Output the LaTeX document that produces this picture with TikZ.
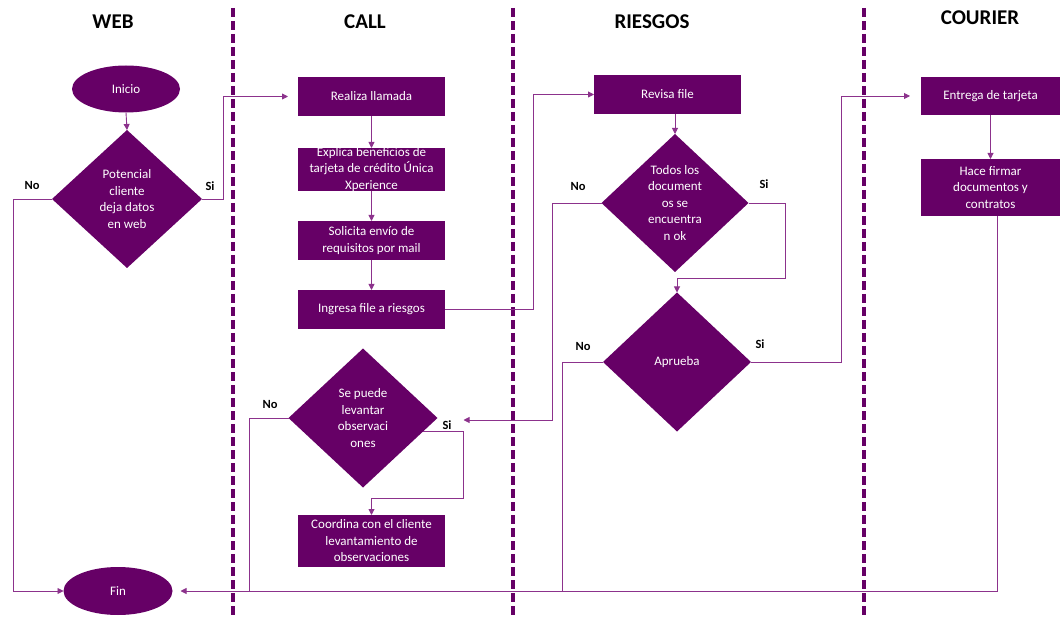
\documentclass[tikz,border=0pt]{standalone}
\usepackage{fontspec}
\setmainfont{Carlito}
\usetikzlibrary{shapes.geometric,arrows.meta,calc}
\definecolor{plum}{RGB}{102,0,102}
\definecolor{wire}{RGB}{140,50,140}

\begin{document}
\begin{tikzpicture}[x=1pt,y=-1pt,
  every node/.style={font=\fontsize{13}{16.5}\selectfont, outer sep=0pt},
  proc/.style={fill=plum, text=white, inner xsep=3pt, inner ysep=0pt, minimum width=147, align=center},
  choice/.style={diamond, fill=plum, text=white, inner sep=-6pt, align=center},
  term/.style={ellipse, fill=plum, text=white, minimum width=108, minimum height=47},
  wire/.style={draw=wire, line width=0.9pt},
  arr/.style={wire, -{Triangle[length=6pt,width=6pt]}},
  lane/.style={draw=plum, line width=3.5pt, dash pattern=on 9pt off 4pt},
  head/.style={font=\fontsize{21}{24}\selectfont\bfseries},
  tag/.style={font=\fontsize{12.5}{14}\selectfont\bfseries}]

\useasboundingbox (0,0) rectangle (1062,617);

\draw[lane] (233,8) -- (233,617);
\draw[lane] (513,8) -- (513,617);
\draw[lane] (864,8) -- (864,617);

\node[head] (hweb) at (113,22) {WEB};
\node[head] (hcall) at (365,22) {CALL};
\node[head] (hriesgos) at (652,22) {RIESGOS};
\node[head] (hcourier) at (980,18) {COURIER};

\node[term] (inicio) at (126,89) {Inicio};
\node[choice, minimum width=150, minimum height=138] (datos) at (127,199) {Potencial\\cliente\\deja datos\\en web};
\node[term, minimum width=109, minimum height=48] (fin) at (118,591) {Fin};

\node[proc, minimum height=39] (llamada) at (371.5,96.5) {Realiza llamada};
\node[proc, minimum height=43, inner ysep=-2pt] (beneficios) at (371.5,169.5) {Explica beneficios de\\tarjeta de crédito Única\\Xperience};
\node[proc, minimum height=39] (requisitos) at (371.5,240.5) {Solicita envío de\\requisitos por mail};
\node[proc, minimum height=39] (ingresa) at (371.5,309.5) {Ingresa file a riesgos};
\node[choice, minimum width=149, minimum height=139] (levantar) at (363,418) {Se puede\\levantar\\observaci\\ones};
\node[proc, minimum height=52] (coordina) at (371.5,541) {Coordina con el cliente\\levantamiento de\\observaciones};

\node[proc, minimum height=39] (revisa) at (667.5,94.5) {Revisa file};
\node[choice, minimum width=147, minimum height=138] (docs) at (675,203) {Todos los\\document\\os se\\encuentra\\n ok};
\node[choice, minimum width=148, minimum height=139] (aprueba) at (677,362) {Aprueba};

\node[proc, minimum width=139, minimum height=38] (entrega) at (990.5,96) {Entrega de tarjeta};
\node[proc, minimum width=139, minimum height=57] (firma) at (990.5,187.5) {Hace firmar\\documentos y\\contratos};

\node[tag] (no1) at (32,185) {No};
\node[tag] (si1) at (210,186) {Si};
\node[tag] (no2) at (578,186) {No};
\node[tag] (si2) at (764,184) {Si};
\node[tag] (no3) at (583,346) {No};
\node[tag] (si3) at (760,344) {Si};
\node[tag] (no4) at (270,404) {No};
\node[tag] (si4) at (447,425) {Si};

\coordinate (levin) at ($(levantar.east)+(26,2)$);

\draw[arr] (inicio.south) -- (datos.north);
\draw[arr] (datos.west) -- ++(-39,0) |- (fin.west);
\draw[arr, shorten >=10pt] (datos.east) -- ++(21,0) |- (llamada.west);
\draw[arr] (llamada.south) -- (beneficios.north);
\draw[arr] (beneficios.south) -- (requisitos.north);
\draw[arr] (requisitos.south) -- (ingresa.north);
\draw[arr] (ingresa.east) -- ++(88,0) |- (revisa.west);
\draw[arr] (revisa.south -| docs.north) -- (docs.north);
\draw[arr] (docs.east) -- ++(37,0) |- ($(aprueba.north)+(0,-14)$) -- (aprueba.north);
\draw[arr] (docs.west) -- ++(-49,0) |- (levin);
\draw[arr, shorten >=11pt] (aprueba.east) -- ++(90,0) |- (entrega.west);
\draw[wire] (aprueba.west) -- ++(-41,0) coordinate (ap) -- (ap |- fin.east);
\draw[arr] (entrega.south) -- (firma.north);
\draw[arr, shorten >=8pt] ([xshift=7]firma.south) |- (fin.east);
\draw[arr] ($(levantar.east)!0.2!(levantar.south)$) -- ++(41,0) |- ($(coordina.north)+(0,-17)$) -- (coordina.north);
\draw[wire] (levantar.west) -- ++(-39,0) coordinate (lv) -- (lv |- fin.east);
\end{tikzpicture}
\end{document}
